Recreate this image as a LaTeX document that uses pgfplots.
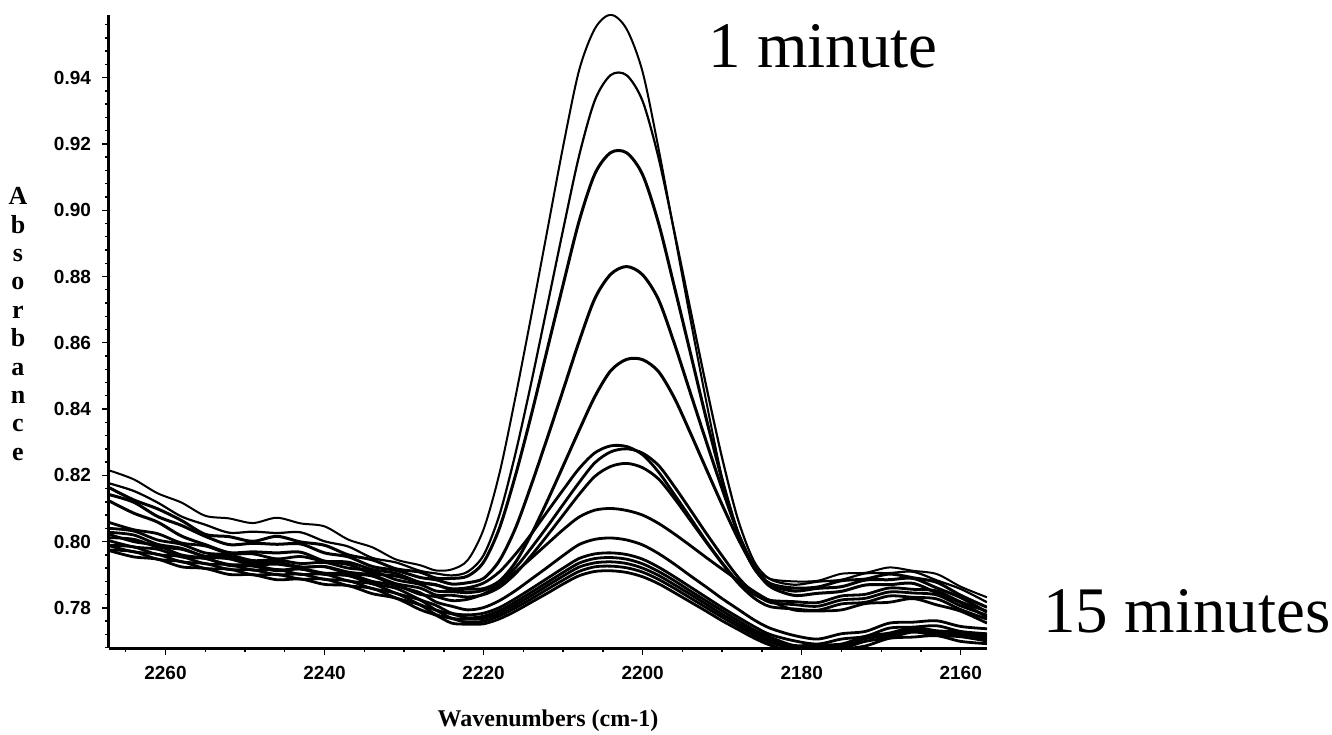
\documentclass[border=0pt]{standalone}
\usepackage{fontspec}
\setmainfont{Liberation Serif}
\newfontfamily\tickfont{Liberation Sans}
\usepackage{pgfplots}
\usepackage{pgfplotstable}
\pgfplotsset{compat=1.18}
\pgfplotstableread{
x c1 c2 c3 c4 c5 c6 c7 c8 c9 c10 c11 c12 c13 c14 c15
2267.1 0.8215 0.8176 0.8163 0.8142 0.8123 0.8058 0.8040 0.8028 0.8022 0.8012 0.8003 0.7989 0.7988 0.7975 0.7973
2264 0.8188 0.8153 0.8126 0.8119 0.8086 0.8036 0.8032 0.8020 0.8000 0.8007 0.7984 0.7984 0.7969 0.7970 0.7954
2261 0.8146 0.8118 0.8099 0.8076 0.8059 0.8024 0.8005 0.7992 0.7988 0.7984 0.7977 0.7961 0.7962 0.7947 0.7947
2258 0.8118 0.8076 0.8064 0.8049 0.8017 0.7996 0.7992 0.7980 0.7960 0.7977 0.7954 0.7955 0.7939 0.7940 0.7924
2255 0.8078 0.8051 0.8022 0.8016 0.7991 0.7987 0.7966 0.7955 0.7950 0.7956 0.7949 0.7933 0.7934 0.7919 0.7919
2252 0.8070 0.8027 0.8015 0.7991 0.7967 0.7964 0.7960 0.7948 0.7928 0.7954 0.7931 0.7931 0.7916 0.7917 0.7901
2249 0.8056 0.8030 0.8001 0.7995 0.7969 0.7963 0.7943 0.7930 0.7926 0.7937 0.7930 0.7914 0.7915 0.7900 0.7900
2246 0.8072 0.8026 0.8016 0.7992 0.7966 0.7948 0.7945 0.7932 0.7912 0.7938 0.7915 0.7916 0.7900 0.7901 0.7885
2243 0.8055 0.8028 0.7999 0.7993 0.7968 0.7955 0.7934 0.7922 0.7918 0.7924 0.7917 0.7901 0.7902 0.7887 0.7887
2240 0.8046 0.8001 0.7989 0.7966 0.7941 0.7941 0.7937 0.7925 0.7905 0.7924 0.7901 0.7902 0.7886 0.7887 0.7871
2237 0.8006 0.7985 0.7960 0.7954 0.7931 0.7938 0.7920 0.7908 0.7903 0.7904 0.7897 0.7881 0.7882 0.7867 0.7867
2234 0.7983 0.7951 0.7945 0.7925 0.7904 0.7916 0.7912 0.7899 0.7880 0.7896 0.7873 0.7873 0.7858 0.7859 0.7843
2231 0.7946 0.7937 0.7918 0.7913 0.7896 0.7904 0.7885 0.7873 0.7868 0.7867 0.7859 0.7844 0.7844 0.7830 0.7829
2228 0.7929 0.7912 0.7908 0.7892 0.7877 0.7877 0.7871 0.7860 0.7841 0.7846 0.7825 0.7824 0.7810 0.7809 0.7795
2226 0.7913 0.7904 0.7890 0.7885 0.7870 0.7869 0.7851 0.7839 0.7834 0.7818 0.7808 0.7794 0.7793 0.7780 0.7778
2224 0.7916 0.7898 0.7889 0.7872 0.7855 0.7858 0.7849 0.7838 0.7822 0.7805 0.7784 0.7782 0.7769 0.7768 0.7754
2222 0.7944 0.7909 0.7896 0.7876 0.7857 0.7861 0.7846 0.7833 0.7826 0.7794 0.7779 0.7770 0.7766 0.7756 0.7751
2220 0.8037 0.7959 0.7938 0.7889 0.7858 0.7875 0.7853 0.7840 0.7842 0.7801 0.7784 0.7775 0.7768 0.7760 0.7752
2218 0.8206 0.8081 0.8041 0.7943 0.7881 0.7909 0.7877 0.7862 0.7870 0.7822 0.7801 0.7792 0.7784 0.7776 0.7767
2216 0.8435 0.8265 0.8199 0.8040 0.7937 0.7962 0.7921 0.7903 0.7908 0.7852 0.7828 0.7818 0.7809 0.7800 0.7790
2214 0.8682 0.8480 0.8382 0.8171 0.8022 0.8023 0.7981 0.7958 0.7950 0.7887 0.7858 0.7847 0.7837 0.7827 0.7817
2212 0.8937 0.8710 0.8579 0.8312 0.8122 0.8090 0.8045 0.8018 0.7993 0.7922 0.7889 0.7877 0.7867 0.7856 0.7844
2210 0.9192 0.8941 0.8775 0.8457 0.8228 0.8156 0.8112 0.8080 0.8036 0.7958 0.7920 0.7907 0.7896 0.7884 0.7872
2208 0.9421 0.9163 0.8966 0.8603 0.8335 0.8220 0.8178 0.8142 0.8074 0.7991 0.7949 0.7935 0.7923 0.7910 0.7897
2206 0.9548 0.9332 0.9110 0.8734 0.8438 0.8268 0.8238 0.8197 0.8095 0.8007 0.7963 0.7949 0.7936 0.7924 0.7910
2204 0.9590 0.9408 0.9174 0.8807 0.8516 0.8289 0.8271 0.8227 0.8100 0.8011 0.7966 0.7952 0.7939 0.7926 0.7912
2202 0.9546 0.9407 0.9173 0.8830 0.8550 0.8287 0.8280 0.8236 0.8094 0.8005 0.7961 0.7947 0.7934 0.7921 0.7907
2200 0.9417 0.9329 0.9107 0.8805 0.8549 0.8262 0.8267 0.8223 0.8080 0.7990 0.7947 0.7933 0.7920 0.7908 0.7894
2198 0.9186 0.9158 0.8961 0.8730 0.8513 0.8210 0.8230 0.8189 0.8055 0.7964 0.7923 0.7910 0.7898 0.7886 0.7873
2196 0.8929 0.8934 0.8768 0.8597 0.8433 0.8142 0.8166 0.8130 0.8023 0.7932 0.7894 0.7882 0.7870 0.7859 0.7846
2194 0.8672 0.8701 0.8570 0.8449 0.8328 0.8072 0.8096 0.8064 0.7988 0.7897 0.7863 0.7851 0.7841 0.7830 0.7818
2192 0.8423 0.8469 0.8371 0.8302 0.8219 0.8001 0.8025 0.7998 0.7952 0.7863 0.7832 0.7821 0.7811 0.7801 0.7790
2190 0.8192 0.8252 0.8186 0.8159 0.8111 0.7936 0.7957 0.7934 0.7917 0.7828 0.7801 0.7791 0.7781 0.7772 0.7761
2188 0.8020 0.8066 0.8026 0.8026 0.8009 0.7879 0.7893 0.7875 0.7883 0.7796 0.7772 0.7762 0.7753 0.7744 0.7735
2186 0.7922 0.7941 0.7920 0.7927 0.7922 0.7841 0.7845 0.7830 0.7850 0.7764 0.7744 0.7734 0.7726 0.7718 0.7709
2184 0.7888 0.7887 0.7874 0.7871 0.7865 0.7823 0.7817 0.7804 0.7822 0.7739 0.7720 0.7712 0.7704 0.7696 0.7688
2181 0.7880 0.7870 0.7860 0.7851 0.7838 0.7819 0.7810 0.7797 0.7794 0.7717 0.7701 0.7687 0.7683 0.7677 0.7667
2178 0.7882 0.7879 0.7863 0.7859 0.7844 0.7816 0.7805 0.7793 0.7791 0.7706 0.7691 0.7689 0.7682 0.7675 0.7664
2175 0.7903 0.7885 0.7882 0.7864 0.7850 0.7836 0.7824 0.7812 0.7794 0.7722 0.7706 0.7691 0.7684 0.7678 0.7675
2172 0.7906 0.7904 0.7887 0.7884 0.7869 0.7841 0.7829 0.7817 0.7813 0.7729 0.7714 0.7714 0.7707 0.7699 0.7685
2169 0.7922 0.7905 0.7902 0.7885 0.7870 0.7860 0.7848 0.7836 0.7817 0.7754 0.7739 0.7724 0.7717 0.7710 0.7708
2166 0.7912 0.7909 0.7891 0.7889 0.7874 0.7856 0.7845 0.7832 0.7828 0.7757 0.7742 0.7741 0.7734 0.7727 0.7712
2163 0.7902 0.7883 0.7877 0.7860 0.7845 0.7851 0.7839 0.7827 0.7809 0.7761 0.7746 0.7731 0.7724 0.7717 0.7716
2160 0.7864 0.7857 0.7838 0.7831 0.7816 0.7818 0.7806 0.7795 0.7790 0.7744 0.7729 0.7727 0.7720 0.7713 0.7699
2156.7 0.7832 0.7817 0.7802 0.7787 0.7772 0.7790 0.7778 0.7766 0.7754 0.7737 0.7722 0.7714 0.7707 0.7700 0.7692
}\spectra
\begin{document}
\begin{tikzpicture}
\useasboundingbox (-54.5pt,-43pt) rectangle (611.5pt,324pt);
\begin{axis}[
  name=ax, at={(0,0)}, anchor=south west,
  scale only axis, width=439pt, height=316.5pt,
  x dir=reverse, xmin=2156.7, xmax=2267.1,
  ymin=0.7679, ymax=0.9589,
  axis x line*=bottom, axis y line*=left,
  axis line style={line width=1.5pt,-},
  xtick={2160,2180,2200,2220,2240,2260},
  xticklabels={2160,2180,2200,2220,2240,2260},
  minor xtick={2155,2160,...,2265},
  ytick={0.78,0.8,0.82,0.84,0.86,0.88,0.9,0.92,0.94},
  yticklabels={0.78,0.80,0.82,0.84,0.86,0.88,0.90,0.92,0.94},
  minor ytick={0.768,0.772,...,0.957},
  tick align=outside,
  major tick length=3.5pt, minor tick length=1.8pt,
  every tick/.style={black, line width=0.7pt},
  tick label style={font=\tickfont\bfseries\fontsize{9.5}{11}\selectfont},
  xticklabel style={yshift=-2pt},
  yticklabel style={xshift=-2pt},
  cycle list={{black,solid}},
  every axis plot/.append style={black, solid, line width=1.4pt, smooth, no markers},
]
\addplot[black, line width=1.0pt] table[x=x,y=c1]{\spectra};
\addplot[black, line width=1.1pt] table[x=x,y=c2]{\spectra};
\addplot[black, line width=1.5pt] table[x=x,y=c3]{\spectra};
\addplot[black, line width=1.5pt] table[x=x,y=c4]{\spectra};
\addplot[black, line width=1.5pt] table[x=x,y=c5]{\spectra};
\addplot[black] table[x=x,y=c6]{\spectra};
\addplot[black] table[x=x,y=c7]{\spectra};
\addplot[black] table[x=x,y=c8]{\spectra};
\addplot[black] table[x=x,y=c9]{\spectra};
\addplot[black] table[x=x,y=c10]{\spectra};
\addplot[black] table[x=x,y=c11]{\spectra};
\addplot[black] table[x=x,y=c12]{\spectra};
\addplot[black] table[x=x,y=c13]{\spectra};
\addplot[black] table[x=x,y=c14]{\spectra};
\addplot[black] table[x=x,y=c15]{\spectra};
\end{axis}
\node[anchor=base west, inner sep=0pt, font=\fontsize{32.5}{36}\selectfont] at (299.5pt,290pt) {1 minute};
\node[anchor=base west, inner sep=0pt, font=\fontsize{32.5}{36}\selectfont] at (467pt,8pt) {15 minutes};
\node[inner sep=0pt, font=\bfseries\fontsize{12}{14}\selectfont] at (219.5pt,-36.5pt) {Wavenumbers (cm-1)};
\node[inner sep=0pt, align=center, font=\bfseries\fontsize{13}{14.2}\selectfont] at (-45.5pt,162pt) {A\\b\\s\\o\\r\\b\\a\\n\\c\\e};
\end{tikzpicture}
\end{document}
